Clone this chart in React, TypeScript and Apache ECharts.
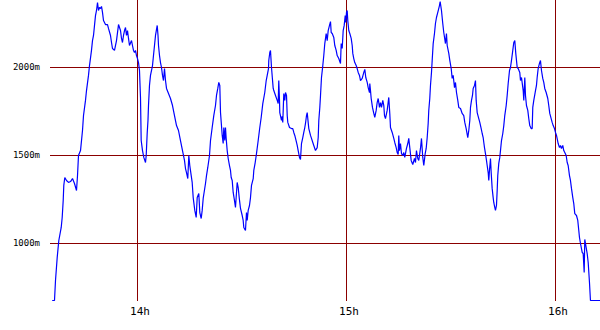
import React, { useEffect, useRef } from "react";
import * as echarts from "echarts";

// time of day in minutes (840 = 14h)
const times = [
  815.51, 816.17, 816.46, 816.95, 817.41, 818.10, 818.38, 818.67, 818.84, 819.13,
  819.62, 820.19, 820.77, 821.34, 821.91, 822.49, 822.78, 823.06, 823.64, 824.21,
  824.50, 825.07, 825.36, 825.93, 826.22, 826.79, 827.08, 827.37, 827.66, 827.94,
  828.23, 828.52, 828.80, 829.09, 829.38, 829.67, 829.95, 830.24, 830.81, 831.39,
  831.67, 832.25, 832.54, 832.82, 833.40, 833.97, 834.55, 835.12, 835.41, 835.69,
  835.98, 836.27, 836.56, 836.84, 837.13, 837.42, 837.70, 838.28, 838.56, 838.85,
  839.14, 839.43, 839.71, 840.00, 840.29, 840.57, 840.86, 841.06, 841.44, 841.81,
  842.30, 842.50, 842.78, 843.01, 843.16, 843.44, 843.73, 844.31, 844.59, 844.88,
  845.17, 845.66, 845.89, 846.03, 846.32, 846.60, 846.89, 847.18, 847.46, 847.75,
  848.04, 848.33, 848.90, 849.47, 850.05, 850.62, 851.20, 851.77, 852.34, 852.92,
  853.49, 853.78, 854.07, 854.44, 854.73, 855.01, 855.42, 855.70, 855.99, 856.45,
  856.85, 857.14, 857.60, 857.89, 858.29, 858.57, 858.86, 859.52, 859.81, 860.18,
  860.67, 860.96, 861.44, 861.90, 862.39, 862.68, 863.05, 863.34, 863.63, 863.83,
  864.32, 864.60, 864.78, 865.06, 865.26, 865.46, 865.75, 866.04, 866.41, 866.70,
  866.90, 867.19, 867.47, 867.85, 868.13, 868.33, 868.62, 868.91, 869.20, 869.57,
  870.06, 870.34, 870.52, 871.00, 871.29, 871.49, 871.78, 872.15, 872.44, 872.73,
  873.22, 873.39, 873.79, 874.16, 874.65, 875.11, 875.51, 875.97, 876.54, 876.95,
  877.24, 877.61, 877.69, 877.98, 878.18, 878.47, 878.96, 879.13, 879.62, 880.11,
  880.39, 880.56, 880.77, 880.85, 881.34, 881.54, 881.71, 882.00, 882.29, 882.49,
  882.78, 882.98, 883.15, 883.64, 884.21, 884.58, 884.87, 885.16, 885.65, 885.85,
  886.13, 886.51, 886.79, 887.08, 887.45, 887.74, 888.03, 888.23, 888.52, 888.72,
  889.00, 889.18, 889.67, 889.95, 890.33, 890.61, 890.90, 891.10, 891.59, 891.88,
  892.05, 892.34, 892.54, 892.82, 893.20, 893.48, 893.77, 894.17, 894.46, 894.75,
  895.12, 895.41, 895.61, 895.90, 896.36, 896.64, 897.04, 897.33, 897.79, 898.28,
  898.48, 898.77, 899.05, 899.34, 899.63, 899.80, 900.00, 900.20, 900.37, 900.66,
  900.95, 901.35, 901.64, 901.81, 902.09, 902.38, 902.78, 903.07, 903.36, 903.73,
  904.02, 904.51, 904.97, 905.26, 905.54, 905.95, 906.23, 906.61, 906.69, 906.89,
  907.09, 907.46, 907.84, 908.12, 908.52, 908.81, 909.10, 909.47, 909.76, 910.05,
  910.42, 910.71, 910.91, 911.19, 911.68, 911.85, 912.14, 912.43, 912.63, 913.12,
  913.58, 913.86, 914.27, 914.55, 914.84, 915.01, 915.21, 915.50, 915.79, 916.16,
  916.45, 916.73, 917.22, 917.60, 917.88, 918.17, 918.57, 919.03, 919.52, 919.81,
  920.09, 920.47, 920.75, 921.24, 921.53, 921.90, 922.19, 922.59, 922.88, 923.17,
  923.45, 923.62, 923.91, 924.11, 924.40, 924.60, 924.89, 925.26, 925.54, 925.83,
  926.21, 926.69, 926.89, 927.27, 927.64, 927.93, 928.41, 928.70, 928.91, 929.37,
  929.66, 930.06, 930.34, 930.63, 931.01, 931.29, 931.58, 931.95, 932.24, 932.73,
  933.21, 933.67, 933.96, 934.36, 934.82, 935.11, 935.40, 935.60, 935.89, 936.17,
  936.37, 936.75, 937.03, 937.23, 937.52, 937.98, 938.27, 938.67, 938.96, 939.24,
  939.42, 939.62, 939.90, 940.19, 940.39, 940.68, 940.85, 941.05, 941.34, 941.54,
  941.82, 942.11, 942.28, 942.57, 942.77, 943.06, 943.26, 943.43, 943.72, 944.01,
  944.21, 944.50, 944.87, 945.16, 945.44, 945.85, 946.13, 946.42, 946.80, 947.08,
  947.37, 947.74, 948.03, 948.32, 948.60, 949.01, 949.29, 949.75, 949.95, 950.24,
  950.73, 950.90, 951.19, 951.39, 951.67, 952.05, 952.33, 952.62, 953.02, 953.31,
  953.48, 953.77, 954.26, 954.54, 954.74, 955.03, 955.40, 955.69, 955.98, 956.35,
  956.64, 956.92, 957.33, 957.79, 958.07, 958.36, 958.76, 959.05, 959.34, 959.71,
  960.00, 960.29, 960.77, 961.15, 961.43, 961.72, 962.09, 962.38, 962.67, 963.07,
  963.36, 963.64, 964.02, 964.30, 964.59, 964.97, 965.25, 965.54, 966.03, 966.40,
  966.69, 966.89, 967.18, 967.67, 967.95, 968.24, 968.41, 968.81, 969.10, 969.39,
  969.76, 970.04, 972.78,
];

// altitude in metres
const altitudes = [
  676, 676, 790, 921, 1017, 1091, 1148, 1244, 1330, 1375,
  1358, 1347, 1352, 1369, 1341, 1301, 1386, 1500, 1528, 1642,
  1727, 1813, 1869, 1955, 2011, 2097, 2153, 2182, 2239, 2295,
  2324, 2369, 2324, 2341, 2335, 2347, 2313, 2267, 2244, 2244,
  2222, 2182, 2142, 2108, 2097, 2153, 2244, 2210, 2165, 2142,
  2182, 2210, 2227, 2182, 2210, 2165, 2125, 2153, 2125, 2097,
  2085, 2097, 2068, 2051, 2028, 1983, 1830, 1585, 1528, 1489,
  1460, 1500, 1625, 1699, 1784, 1898, 1955, 2011, 2068, 2125,
  2182, 2239, 2182, 2125, 2068, 2028, 2000, 1955, 1926, 1994,
  1926, 1881, 1852, 1824, 1784, 1727, 1670, 1642, 1585, 1528,
  1472, 1426, 1403, 1369, 1500, 1443, 1386, 1347, 1261, 1188,
  1148, 1261, 1284, 1176, 1142, 1188, 1256, 1341, 1386, 1432,
  1500, 1585, 1659, 1727, 1784, 1841, 1881, 1915, 1898, 1744,
  1614, 1568, 1659, 1585, 1659, 1597, 1528, 1483, 1443, 1415,
  1375, 1358, 1290, 1244, 1205, 1205, 1347, 1318, 1261, 1199,
  1159, 1131, 1091, 1074, 1176, 1131, 1188, 1216, 1261, 1330,
  1369, 1415, 1460, 1511, 1585, 1659, 1716, 1795, 1858, 1926,
  1955, 1994, 2040, 2085, 2097, 2000, 1881, 1869, 1841, 1813,
  1795, 1926, 1813, 1744, 1699, 1722, 1688, 1852, 1813, 1858,
  1841, 1727, 1688, 1659, 1653, 1653, 1631, 1614, 1574, 1557,
  1528, 1489, 1477, 1568, 1602, 1631, 1659, 1682, 1727, 1744,
  1688, 1653, 1614, 1597, 1574, 1557, 1540, 1528, 1545, 1602,
  1699, 1773, 1841, 1943, 2011, 2068, 2136, 2193, 2153, 2210,
  2239, 2261, 2199, 2193, 2170, 2125, 2097, 2068, 2051, 2023,
  2136, 2108, 2210, 2239, 2295, 2256, 2313, 2324, 2267, 2210,
  2193, 2165, 2125, 2080, 2051, 2028, 2011, 1994, 1972, 1955,
  1926, 1938, 1972, 1989, 1943, 1915, 1886, 1858, 1909, 1869,
  1824, 1773, 1739, 1716, 1756, 1801, 1824, 1773, 1801, 1773,
  1813, 1784, 1727, 1710, 1756, 1784, 1830, 1739, 1659, 1631,
  1597, 1574, 1545, 1517, 1506, 1614, 1528, 1568, 1511, 1500,
  1517, 1489, 1540, 1568, 1597, 1545, 1472, 1449, 1483, 1460,
  1528, 1483, 1472, 1540, 1597, 1489, 1443, 1511, 1540, 1602,
  1682, 1756, 1824, 1898, 1972, 2040, 2136, 2193, 2250, 2284,
  2313, 2352, 2375, 2324, 2250, 2199, 2136, 2193, 2125, 2080,
  2040, 1994, 1938, 1955, 1886, 1915, 1858, 1813, 1773, 1767,
  1739, 1727, 1688, 1653, 1602, 1642, 1699, 1773, 1813, 1841,
  1881, 1898, 1926, 1813, 1744, 1710, 1688, 1653, 1625, 1602,
  1574, 1545, 1511, 1472, 1443, 1403, 1358, 1415, 1483, 1403,
  1313, 1261, 1233, 1205, 1188, 1216, 1301, 1386, 1455, 1489,
  1528, 1585, 1625, 1670, 1727, 1784, 1841, 1909, 1983, 2000,
  2040, 2097, 2142, 2153, 2080, 2000, 1994, 1972, 1926, 1943,
  1869, 1813, 1943, 1841, 1784, 1756, 1710, 1670, 1653, 1653,
  1773, 1813, 1869, 1898, 1943, 1994, 2023, 2040, 1983, 1938,
  1915, 1881, 1858, 1824, 1784, 1739, 1710, 1688, 1670, 1653,
  1631, 1614, 1568, 1545, 1557, 1540, 1557, 1528, 1517, 1500,
  1460, 1443, 1386, 1358, 1313, 1261, 1227, 1170, 1159, 1131,
  1074, 1034, 1000, 949, 943, 835, 1023, 977, 943, 892,
  778, 676, 676,
];

const hourTicks = [840, 900, 960];
const altitudeTicks = [1000, 1500, 2000];

export default function App() {
  const ref = useRef<HTMLDivElement>(null);
  useEffect(() => {
    if (!ref.current) return;
    const chart = echarts.init(ref.current, null, { renderer: "svg" });
    const data = times.map((t, i) => [t, altitudes[i]]);
    const gridColor = "#8b0000";
    chart.setOption({
      animation: false,
      backgroundColor: "#ffffff",
      grid: { left: 50, top: 0, width: 550, height: 301, containLabel: false, outerBoundsMode: "none" },
      xAxis: {
        type: "value",
        min: 814.88,
        max: 972.78,
        axisLine: { show: false },
        axisTick: { show: false, customValues: hourTicks },
        splitLine: { show: true, lineStyle: { color: gridColor, width: 1, type: "solid" } },
        axisLabel: {
          customValues: hourTicks,
          formatter: (v: number) => `${Math.round(v / 60)}h`,
          fontFamily: "DejaVu Sans Mono",
          fontSize: 11,
          color: "#000000",
          margin: 5,
          padding: [0, 0, 0, 5],
        },
      },
      yAxis: {
        type: "value",
        min: 673.3,
        max: 2383.5,
        axisLine: { show: false },
        axisTick: { show: false, customValues: altitudeTicks },
        splitLine: { show: true, lineStyle: { color: gridColor, width: 1, type: "solid" } },
        axisLabel: {
          customValues: altitudeTicks,
          formatter: (v: number) => `${v}m`,
          fontFamily: "DejaVu Sans Mono",
          fontSize: 9,
          color: "#000000",
          margin: 10,
          padding: [6, 0, 0, 0],
        },
      },
      series: [
        {
          type: "line",
          data,
          showSymbol: false,
          symbol: "none",
          silent: true,
          lineStyle: { color: "#0000ff", width: 1.2 },
        },
      ],
    });
    return () => chart.dispose();
  }, []);
  return (
    <div
      ref={ref}
      style={{ position: "absolute", left: 0, top: 0, width: 600, height: 330 }}
    />
  );
}
